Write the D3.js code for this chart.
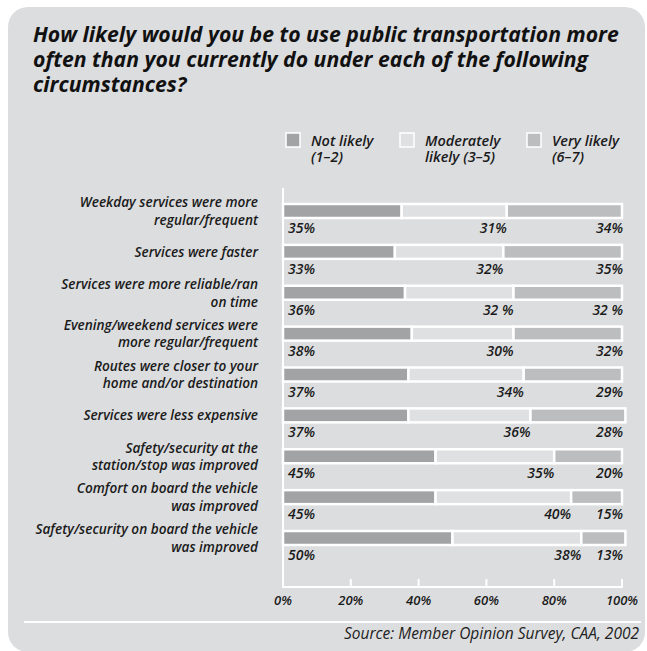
<!DOCTYPE html>
<html>
<head>
<meta charset="utf-8">
<script src="https://cdn.jsdelivr.net/npm/d3@7"></script>
<style>
  body { margin: 0; background: #ffffff; }
  svg { display: block; font-family: "Open Sans", Lato, sans-serif; }
  .title { font-size: 21.2px; font-weight: 700; font-style: italic; fill: #111; }
  .cat { font-size: 13.6px; font-weight: 600; font-style: italic; fill: #1a1a1a; }
  .pct { font-size: 14px; font-weight: 600; font-style: italic; fill: #1a1a1a; }
  .tick { font-size: 13px; font-weight: 600; font-style: italic; fill: #1a1a1a; }
  .legend { font-size: 14.5px; font-weight: 600; font-style: italic; fill: #1a1a1a; }
  .source { font-size: 15.5px; font-style: italic; fill: #222; }
</style>
</head>
<body>
<svg id="chart" width="647" height="651"></svg>
<script>

// data
const titleLines = [
    "How likely would you be to use public transportation more",
    "often than you currently do under each of the following",
    "circumstances?"
];

const categories = [
    ["Weekday services were more", "regular/frequent"],
    ["Services were faster"],
    ["Services were more reliable/ran", "on time"],
    ["Evening/weekend services were", "more regular/frequent"],
    ["Routes were closer to your", "home and/or destination"],
    ["Services were less expensive"],
    ["Safety/security at the", "station/stop was improved"],
    ["Comfort on board the vehicle", "was improved"],
    ["Safety/security on board the vehicle", "was improved"]
];

const notLikely      = [35, 33, 36, 38, 37, 37, 45, 45, 50];
const moderately     = [31, 32, 32, 30, 34, 36, 35, 40, 38];
const veryLikely     = [34, 35, 32, 32, 29, 28, 20, 15, 13];

// the survey prints a few of the labels with a space before the %
const labelOverrides = { "2-1": "32 %", "2-2": "32 %" };

const seriesNames = [["Not likely", "(1–2)"], ["Moderately", "likely (3–5)"], ["Very likely", "(6–7)"]];
const tickValues  = [0, 20, 40, 60, 80, 100];
const sourceText  = "Source: Member Opinion Survey, CAA, 2002";

//-------------------------------------------------------------------------------

const colours = ["#a2a3a5", "#dfe0e1", "#bcbdbf"];
const panelFill = "#dcdddf";

const svg = d3.select("#chart");

// rounded grey panel
svg.append("rect")
    .attr("x", 8).attr("y", 7)
    .attr("width", 637).attr("height", 645)
    .attr("rx", 20).attr("ry", 20)
    .attr("fill", panelFill);

svg.append("g").selectAll("text")
    .data(titleLines)
    .join("text")
    .attr("class", "title")
    .attr("x", 33)
    .attr("y", (d, i) => 42 + i * 25)
    .text(d => d);

//-------------------------------------------------------------------------------
// scales

const x = d3.scaleLinear().domain([0, 100]).range([283, 622]);

const rowIds = d3.range(categories.length);
const y = d3.scaleBand().domain(rowIds).range([204, 204 + 9 * 40.875]).paddingInner(0);
const barH = 14;

// stack the three series per row
const rows = rowIds.map(i => {
    const vals = [notLikely[i], moderately[i], veryLikely[i]];
    let cum = 0;
    return vals.map((v, k) => {
        const seg = { row: i, k: k, v: v, x0: cum, x1: cum + v };
        cum += v;
        return seg;
    });
});

//-------------------------------------------------------------------------------
// legend (one text per line)

const legend = svg.append("g");
const legendX = [286, 400, 527];

legend.selectAll("rect")
    .data(seriesNames)
    .join("rect")
    .attr("x", (d, k) => legendX[k])
    .attr("y", 133)
    .attr("width", 14).attr("height", 14)
    .attr("fill", (d, k) => colours[k])
    .attr("stroke", "#fff")
    .attr("stroke-width", 1.5);

legend.selectAll("text")
    .data(seriesNames.flatMap((d, k) => d.map((s, j) => ({ s: s, k: k, j: j }))))
    .join("text")
    .attr("class", "legend")
    .attr("x", d => legendX[d.k] + 25)
    .attr("y", d => 146 + d.j * 15.5)
    .text(d => d.s);

//-------------------------------------------------------------------------------
// axis (white lines, ticks pointing up)

const axis = svg.append("g").attr("stroke", "#fff").attr("stroke-width", 2);

axis.append("line")
    .attr("x1", x(0)).attr("x2", x(0))
    .attr("y1", 188).attr("y2", 588);

axis.append("line")
    .attr("x1", x(0) - 1).attr("x2", x(100) + 1)
    .attr("y1", 587).attr("y2", 587);

axis.selectAll(".tk")
    .data(tickValues)
    .join("line")
    .attr("class", "tk")
    .attr("x1", d => x(d)).attr("x2", d => x(d))
    .attr("y1", 579).attr("y2", 587);

svg.append("g").selectAll("text")
    .data(tickValues)
    .join("text")
    .attr("class", "tick")
    .attr("x", d => x(d))
    .attr("y", 605)
    .attr("text-anchor", "middle")
    .text(d => d + "%");

//-------------------------------------------------------------------------------
// bars

svg.append("g").selectAll("rect")
    .data(rows.flat())
    .join("rect")
    .attr("x", d => x(d.x0))
    .attr("y", d => y(d.row))
    .attr("width", d => x(d.x1) - x(d.x0))
    .attr("height", barH)
    .attr("fill", d => colours[d.k])
    .attr("stroke", "#fff")
    .attr("stroke-width", 2.5);

// percent labels: first at left, second at end of its segment, third at 100%
const labelX = d => d.k == 0 ? x(0) + 5 : d.k == 1 ? x(d.x1) : x(100) + 1;

svg.append("g").selectAll("text")
    .data(rows.flat())
    .join("text")
    .attr("class", "pct")
    .attr("x", labelX)
    .attr("y", d => y(d.row) + 29)
    .attr("text-anchor", d => d.k == 0 ? "start" : "end")
    .text(d => labelOverrides[d.row + "-" + d.k] || d.v + "%");

//-------------------------------------------------------------------------------
// category labels, right aligned and centred on their bar

const lineH = 17.5;

svg.append("g").selectAll("text")
    .data(categories)
    .join("text")
    .attr("class", "cat")
    .attr("text-anchor", "end")
    .attr("y", (d, i) => y(i) + barH / 2 + 5 - (d.length - 1) * lineH / 2)
    .selectAll("tspan")
    .data(d => d)
    .join("tspan")
    .attr("x", 258)
    .attr("dy", (d, j) => j ? lineH : 0)
    .text(d => d);

//-------------------------------------------------------------------------------
// source line

svg.append("line")
    .attr("x1", 24).attr("x2", 641)
    .attr("y1", 622).attr("y2", 622)
    .attr("stroke", "#fff").attr("stroke-width", 2);

svg.append("text")
    .attr("class", "source")
    .attr("x", 639).attr("y", 639)
    .attr("text-anchor", "end")
    .text(sourceText);

</script>
</body>
</html>
